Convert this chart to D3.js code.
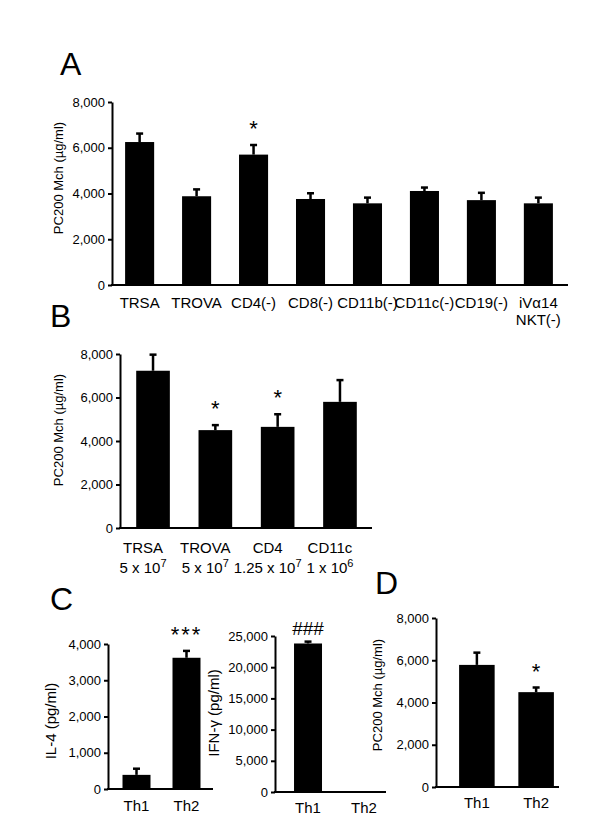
<!DOCTYPE html>
<html>
<head>
<meta charset="utf-8">
<script src="https://cdn.jsdelivr.net/npm/d3@7"></script>
<style>
  body { margin: 0; background: #fff; }
  svg { font-family: "Liberation Sans", Arial, sans-serif; }
</style>
</head>
<body>
<svg id="chart" width="600" height="840"></svg>
<script>
// Panel A
const catsA = ["TRSA", "TROVA", "CD4(-)", "CD8(-)", "CD11b(-)", "CD11c(-)", "CD19(-)", "iVα14|NKT(-)"];
const valsA = [6250, 3880, 5700, 3760, 3570, 4110, 3710, 3570];
const errsA = [370, 300, 420, 250, 250, 150, 320, 250];
const sigA = ["", "", "*", "", "", "", "", ""];
const ticksA = [0, 2000, 4000, 6000, 8000];

// Panel B
const catsB = ["TRSA", "TROVA", "CD4", "CD11c"];
const dosesB = ["5 x 10^7", "5 x 10^7", "1.25 x 10^7", "1 x 10^6"];
const valsB = [7230, 4500, 4650, 5800];
const errsB = [740, 230, 580, 1000];
const sigB = ["", "*", "*", ""];
const ticksB = [0, 2000, 4000, 6000, 8000];

// Panel C (IL-4 and IFN-g)
const catsC = ["Th1", "Th2"];
const il4Vals = [390, 3620];
const il4Errs = [170, 190];
const il4Sig = ["", "***"];
const il4Ticks = [0, 1000, 2000, 3000, 4000];
const ifnVals = [23800, 60];
const ifnErrs = [300, 0];
const ifnSig = ["###", ""];
const ifnTicks = [0, 5000, 10000, 15000, 20000, 25000];

// Panel D
const catsD = ["Th1", "Th2"];
const valsD = [5780, 4490];
const errsD = [580, 220];
const sigD = ["", "*"];
const ticksD = [0, 2000, 4000, 6000, 8000];

const svg = d3.select("#chart");
const fmt = d3.format(",");

// layout of each panel
const panels = [
  {cats: catsA, vals: valsA, errs: errsA, sig: sigA, ticks: ticksA,
   title: "PC200 Mch (µg/ml)", titleX: 58, titleY: 178, titleSize: 13,
   xr: [112, 566], lineEnd: 568, yr: [285, 102], pi: 0.49, po: 0.23, pad: 12, dx: 0, lh: 17},
  {cats: catsB.map((c, i) => c + "|" + dosesB[i]), vals: valsB, errs: errsB, sig: sigB, ticks: ticksB,
   title: "PC200 Mch (µg/ml)", titleX: 58, titleY: 430, titleSize: 13,
   xr: [120, 373], lineEnd: 372, yr: [528, 354], pi: 0.46, po: 0.26, pad: 14, dx: -10, lh: 20},
  {cats: catsC, vals: il4Vals, errs: il4Errs, sig: il4Sig, ticks: il4Ticks,
   title: "IL-4 (pg/ml)", titleX: 50, titleY: 721, titleSize: 15,
   xr: [108, 215], lineEnd: 213, yr: [789, 644], pi: 0.44, po: 0.29, pad: 11, dx: 0, lh: 17},
  {cats: catsC, vals: ifnVals, errs: ifnErrs, sig: ifnSig, ticks: ifnTicks,
   title: "IFN-γ (pg/ml)", titleX: 213, titleY: 713, titleSize: 15,
   xr: [275, 397], lineEnd: 386, yr: [792, 636], pi: 0.5, po: 0.34, pad: 10, dx: 0, lh: 17},
  {cats: catsD, vals: valsD, errs: errsD, sig: sigD, ticks: ticksD,
   title: "PC200 Mch (µg/ml)", titleX: 377, titleY: 695, titleSize: 13,
   xr: [436, 577], lineEnd: 559, yr: [787, 618], pi: 0.4, po: 0.39, pad: 10, dx: 0, lh: 17}
];

const letters = [["A", 60, 75], ["B", 50, 327], ["C", 50, 610], ["D", 375, 594]];

svg.selectAll("text.letter")
    .data(letters)
    .join("text")
    .attr("class", "letter")
    .attr("x", d => d[1])
    .attr("y", d => d[2])
    .attr("font-size", 32)
    .text(d => d[0]);

panels.forEach(p => drawPanel(p));

function drawPanel(p) {
    const ticks = p.ticks;
    const x = d3.scaleBand(p.cats, p.xr).paddingInner(p.pi).paddingOuter(p.po);
    const y = d3.scaleLinear([0, ticks[ticks.length - 1]], p.yr);
    const g = svg.append("g");

    // Bars
    g.append("g")
        .selectAll("rect")
        .data(p.vals)
        .join("rect")
        .attr("x", (d, i) => x(p.cats[i]))
        .attr("y", d => y(d))
        .attr("width", x.bandwidth())
        .attr("height", d => y(0) - y(d))
        .attr("fill", "#000");

    // Error bars (upper only)
    const eb = g.append("g")
        .attr("stroke", "#000")
        .attr("stroke-width", 2.5)
        .selectAll("g")
        .data(p.vals)
        .join("g")
        .attr("transform", (d, i) => `translate(${x(p.cats[i]) + x.bandwidth() / 2},0)`)
        .filter((d, i) => p.errs[i] > 0);
    eb.append("line")
        .attr("y1", d => y(d))
        .attr("y2", (d, i) => y(d + p.errs[i]));
    eb.append("line")
        .attr("x1", -3.5).attr("x2", 3.5)
        .attr("y1", (d, i) => y(d + p.errs[i]))
        .attr("y2", (d, i) => y(d + p.errs[i]));

    // Significance marks
    g.append("g")
        .selectAll("text")
        .data(p.sig)
        .join("text")
        .attr("x", (d, i) => x(p.cats[i]) + x.bandwidth() / 2)
        .attr("y", (d, i) => y(p.vals[i] + p.errs[i]) - (d === "###" ? 7 : 9))
        .attr("text-anchor", "middle")
        .attr("font-size", d => d === "###" ? 19 : 22)
        .attr("letter-spacing", d => d === "***" ? 2 : 0)
        .text(d => d);

    // Y axis
    g.append("g")
        .attr("transform", `translate(${p.xr[0]},0)`)
        .call(d3.axisLeft(y).tickValues(ticks).tickSize(4).tickSizeOuter(0).tickPadding(3).tickFormat(fmt))
        .call(a => a.attr("font-family", null).attr("font-size", 13))
        .call(a => a.selectAll("path, line").attr("stroke-width", 2).attr("stroke", "#000"))
        .call(a => a.selectAll("text").attr("fill", "#000"));

    // Baseline
    g.append("line")
        .attr("x1", p.xr[0] - 1)
        .attr("x2", p.lineEnd)
        .attr("y1", y(0))
        .attr("y2", y(0))
        .attr("stroke", "#000")
        .attr("stroke-width", 2);

    // X axis labels
    g.append("g")
        .attr("transform", `translate(0,${y(0)})`)
        .call(d3.axisBottom(x).tickSize(0).tickPadding(p.pad))
        .call(a => a.select(".domain").remove())
        .call(a => a.attr("font-family", null).attr("font-size", 15))
        .call(a => a.selectAll(".tick text").each(function(d) {
            const t = d3.select(this).text(null).attr("dy", null).attr("fill", "#000");
            d.split("|").forEach((line, k) => {
                const parts = line.split("^");
                t.append("tspan")
                    .attr("x", p.dx)
                    .attr("dy", k === 0 ? "0.71em" : p.lh)
                    .text(parts[0]);
                if (parts[1]) {
                    t.append("tspan")
                        .attr("dy", -6)
                        .attr("font-size", 11)
                        .text(parts[1]);
                    t.append("tspan").attr("dy", 6).text("");
                }
            });
        }));

    // Y axis title
    svg.append("text")
        .attr("transform", `translate(${p.titleX},${p.titleY}) rotate(-90)`)
        .attr("text-anchor", "middle")
        .attr("dominant-baseline", "central")
        .attr("font-size", p.titleSize)
        .text(p.title);
}
</script>
</body>
</html>
